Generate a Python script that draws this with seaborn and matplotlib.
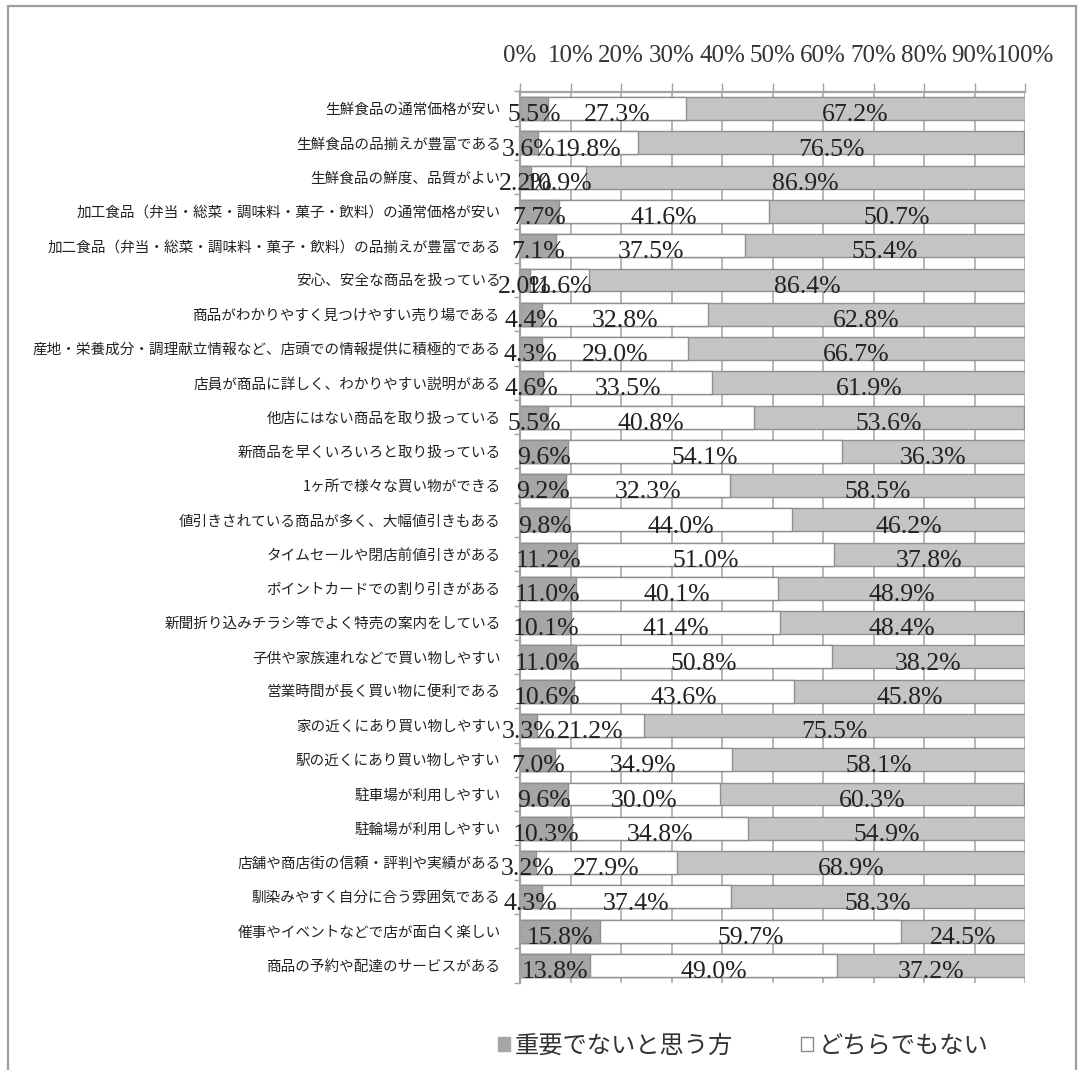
import matplotlib
matplotlib.use("Agg")
import matplotlib.pyplot as plt
from matplotlib.patches import Patch, Rectangle
from matplotlib.ticker import FixedLocator
import numpy as np
import seaborn as sns

# Survey items (top to bottom)
items = [
    "生鮮食品の通常価格が安い",
    "生鮮食品の品揃えが豊富である",
    "生鮮食品の鮮度、品質がよい",
    "加工食品（弁当・総菜・調味料・菓子・飲料）の通常価格が安い",
    "加二食品（弁当・総菜・調味料・菓子・飲料）の品揃えが豊富である",
    "安心、安全な商品を扱っている",
    "商品がわかりやすく見つけやすい売り場である",
    "産地・栄養成分・調理献立情報など、店頭での情報提供に積極的である",
    "店員が商品に詳しく、わかりやすい説明がある",
    "他店にはない商品を取り扱っている",
    "新商品を早くいろいろと取り扱っている",
    "1ヶ所で様々な買い物ができる",
    "値引きされている商品が多く、大幅値引きもある",
    "タイムセールや閉店前値引きがある",
    "ポイントカードでの割り引きがある",
    "新聞折り込みチラシ等でよく特売の案内をしている",
    "子供や家族連れなどで買い物しやすい",
    "営業時間が長く買い物に便利である",
    "家の近くにあり買い物しやすい",
    "駅の近くにあり買い物しやすい",
    "駐車場が利用しやすい",
    "駐輪場が利用しやすい",
    "店舗や商店街の信頼・評判や実績がある",
    "馴染みやすく自分に合う雰囲気である",
    "催事やイベントなどで店が面白く楽しい",
    "商品の予約や配達のサービスがある",
]

# Share of respondents (%)
not_important = [5.5, 3.6, 2.2, 7.7, 7.1, 2.0, 4.4, 4.3, 4.6, 5.5, 9.6, 9.2, 9.8,
                 11.2, 11.0, 10.1, 11.0, 10.6, 3.3, 7.0, 9.6, 10.3, 3.2, 4.3, 15.8, 13.8]
neutral = [27.3, 19.8, 10.9, 41.6, 37.5, 11.6, 32.8, 29.0, 33.5, 40.8, 54.1, 32.3, 44.0,
           51.0, 40.1, 41.4, 50.8, 43.6, 21.2, 34.9, 30.0, 34.8, 27.9, 37.4, 59.7, 49.0]
important = [67.2, 76.5, 86.9, 50.7, 55.4, 86.4, 62.8, 66.7, 61.9, 53.6, 36.3, 58.5, 46.2,
             37.8, 48.9, 48.4, 38.2, 45.8, 75.5, 58.1, 60.3, 54.9, 68.9, 58.3, 24.5, 37.2]

series_names = ["重要でないと思う方", "どちらでもない", "重要だと思う方"]
x_ticks = [0, 10, 20, 30, 40, 50, 60, 70, 80, 90, 100]
x_tick_labels = [f"{t}%" for t in x_ticks]

C_DARK = "#a6a6a6"
C_MID = "#ffffff"
C_LIGHT = "#c4c4c4"
C_EDGE = "#8f8f8f"
C_GRID = "#a3a3a3"

sns.set_theme(style="white")
plt.rcParams["font.family"] = ["Noto Sans CJK JP", "DejaVu Sans"]

W, H = 1083, 1070
fig = plt.figure(figsize=(W / 100, H / 100), dpi=100)
ax = fig.add_axes([520 / W, 1 - 982.5 / H, (1025 - 520) / W, (982.5 - 91.5) / H])

a = np.array(not_important)
b = np.array(neutral)
c = np.array(important)
cum1 = a
cum2 = a + b
cum3 = a + b + c

bar_kw = dict(orient="h", width=0.67, saturation=1, errorbar=None,
              edgecolor=C_EDGE, linewidth=1.0, ax=ax, zorder=2)
sns.barplot(x=cum3, y=items, color=C_LIGHT, **bar_kw)
sns.barplot(x=cum2, y=items, color=C_MID, **bar_kw)
sns.barplot(x=cum1, y=items, color=C_DARK, **bar_kw)

# Value labels centred on each segment
label_font = dict(family="Liberation Serif", size=18.5, color="#222222",
                  ha="center", va="baseline", zorder=5)
for i in range(len(items)):
    yb = i + 0.37
    ax.text(a[i] / 2, yb, f"{a[i]:.1f}%", **label_font)
    ax.text(a[i] + b[i] / 2, yb, f"{b[i]:.1f}%", **label_font)
    ax.text(a[i] + b[i] + c[i] / 2, yb, f"{c[i]:.1f}%", **label_font)

ax.set_xlim(0, 100)
ax.set_ylim(len(items) - 0.5, -0.5)
ax.set_xlabel("")
ax.set_ylabel("")

ax.xaxis.tick_top()
ax.set_xticks(x_ticks)
ax.set_xticklabels(x_tick_labels, family="Liberation Serif", fontsize=18, color="#333333")
ax.tick_params(axis="x", which="major", direction="out", length=6.5, width=1.0,
               color=C_GRID, pad=11, top=True, bottom=False)
ax.xaxis.grid(True, color=C_GRID, linewidth=1.1, zorder=0)
ax.yaxis.grid(False)
ax.set_axisbelow(True)

ax.tick_params(axis="y", which="major", length=0, pad=14, labelsize=10.5, labelcolor="#222222")
ax.yaxis.set_minor_locator(FixedLocator(np.arange(-0.5, len(items), 1.0)))
ax.tick_params(axis="y", which="minor", direction="out", length=4, width=1.0,
               color=C_GRID, left=True)

for side in ["right", "bottom"]:
    ax.spines[side].set_visible(False)
for side in ["left", "top"]:
    ax.spines[side].set_color(C_GRID)
    ax.spines[side].set_linewidth(1.6)

handles = [Patch(facecolor=C_DARK, edgecolor=C_DARK),
           Patch(facecolor="white", edgecolor="#8a8a8a")]
fig.legend(handles, series_names[:2], loc="center left",
           bbox_to_anchor=(498 / W, 1 - 1046 / H), ncol=2, frameon=False,
           fontsize=17.5, handlelength=0.5, handleheight=0.5, handletextpad=0.2,
           columnspacing=2.8, borderpad=0, borderaxespad=0, labelcolor="#333333")

# Outer frame of the chart area
fig.add_artist(Rectangle((8 / W, -0.05), (1075.5 - 8) / W, 0.05 + 1 - 6 / H,
                         transform=fig.transFigure, fill=False,
                         edgecolor="#9d9d9d", linewidth=1.6))

fig.savefig("out.png", dpi=100, facecolor="white")
